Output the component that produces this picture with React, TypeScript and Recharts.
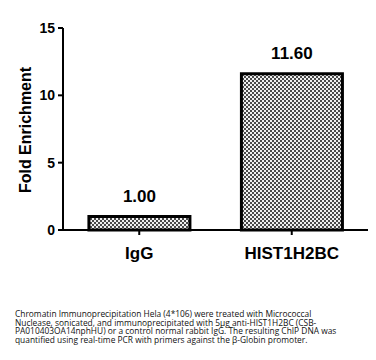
import React from "react";
import { BarChart, Bar, XAxis, YAxis, LabelList } from "recharts";

const categories = ["IgG", "HIST1H2BC"];
const foldEnrichment = [1.0, 11.6];
const yTicks = [0, 5, 10, 15];
const captionLines = [
  "Chromatin Immunoprecipitation Hela (4*106) were treated with Micrococcal",
  "Nuclease, sonicated, and immunoprecipitated with 5\u00b5g anti-HIST1H2BC (CSB-",
  "PA010403OA14nphHU) or a control normal rabbit IgG. The resulting ChIP DNA was",
  "quantified using real-time PCR with primers against the \u03b2-Globin promoter.",
];

const data = categories.map((name, i) => ({ name, value: foldEnrichment[i] }));

const YLabel = () => (
  <text
    x={31}
    y={130}
    transform="rotate(-90 31 130)"
    textAnchor="middle"
    fontFamily="Arial, 'Liberation Sans', sans-serif"
    fontWeight="bold"
    fontSize={16}
    fill="#000"
  >
    Fold Enrichment
  </text>
);

export default function App() {
  return (
    <div style={{ position: "absolute", left: 0, top: 0, width: 376, height: 360, background: "#fff" }}>
      <BarChart
        width={376}
        height={280}
        data={data}
        margin={{ top: 28, right: 8, bottom: 10, left: 13 }}
        barCategoryGap="17%"
      >
        <defs>
          <pattern id="checker" width="4" height="4" patternUnits="userSpaceOnUse">
            <rect width="4" height="4" fill="#f0f0f0" />
            <rect x="0" y="0" width="2" height="2" fill="#4a4a4a" />
            <rect x="2" y="2" width="2" height="2" fill="#4a4a4a" />
          </pattern>
        </defs>
        <XAxis
          dataKey="name"
          axisLine={{ stroke: "#000", strokeWidth: 2 }}
          tickLine={{ stroke: "#000", strokeWidth: 2 }}
          tickSize={5}
          tickMargin={12}
          height={40}
          tick={{ fill: "#000", fontSize: 17, fontWeight: "bold", fontFamily: "Arial, 'Liberation Sans', sans-serif" }}
        />
        <YAxis
          domain={[0, 15]}
          ticks={yTicks}
          width={50}
          axisLine={{ stroke: "#000", strokeWidth: 2 }}
          tickLine={{ stroke: "#000", strokeWidth: 2 }}
          tickSize={5}
          tickMargin={3}
          tick={{ fill: "#000", fontSize: 14, fontWeight: "bold", fontFamily: "Arial, 'Liberation Sans', sans-serif" }}
          label={<YLabel />}
        />
        <Bar dataKey="value" fill="url(#checker)" stroke="#000" strokeWidth={3} isAnimationActive={false}>
          <LabelList
            dataKey="value"
            position="top"
            offset={15}
            formatter={(v: number) => v.toFixed(2)}
            style={{ fill: "#000", fontSize: 17, fontWeight: "bold", fontFamily: "Arial, 'Liberation Sans', sans-serif" }}
          />
        </Bar>
      </BarChart>
      <div
        style={{
          position: "absolute",
          left: 15,
          top: 310,
          fontFamily: "'Open Sans', sans-serif",
          fontSize: 8.4,
          lineHeight: "8.5px",
          color: "#111",
          whiteSpace: "nowrap",
        }}
      >
        {captionLines.map((l, i) => (
          <div key={i}>{l}</div>
        ))}
      </div>
    </div>
  );
}
